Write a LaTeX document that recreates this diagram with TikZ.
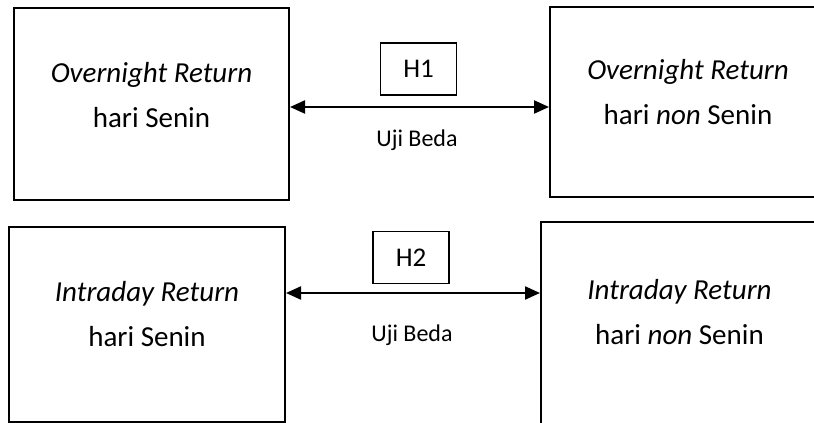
\documentclass[tikz,border=0pt]{standalone}
\usepackage{fontspec}
\setmainfont{Carlito}
\usetikzlibrary{arrows.meta}
\tikzset{
  every picture/.style={x=1pt,y=-1pt},
  bigbox/.style={draw=black, line width=2pt, rectangle, inner sep=0pt},
  hbox/.style={draw=black, line width=1.6pt, rectangle, inner sep=0pt,
    minimum width=76pt, minimum height=52pt, font=\fontsize{27}{31}\selectfont},
  boxtext/.style={align=center, font=\fontsize{29}{45}\selectfont, inner sep=0pt},
  testlabel/.style={font=\fontsize{24}{28}\selectfont, inner sep=0pt},
  link/.style={line width=2.2pt, {Triangle[length=15pt,width=13pt]}-{Triangle[length=15pt,width=13pt]}}
}
\begin{document}
\begin{tikzpicture}
  \useasboundingbox (0,0) rectangle (814,423);
  \clip (0,0) rectangle (814,423);
  \fill[white] (0,0) rectangle (814,423);

  % comparison boxes
  \node[bigbox, minimum width=275pt, minimum height=192pt] (ovsen) at (151.5,104) {};
  \node[bigbox, minimum width=276pt, minimum height=190pt] (ovnon) at (688,102) {};
  \node[bigbox, minimum width=276pt, minimum height=195pt] (insen) at (147,324.5) {};
  \node[bigbox, minimum width=277pt, minimum height=216pt] (innon) at (679.5,330) {};

  % box texts
  \node[boxtext] (tovsen) at (151.5,95) {\textit{Overnight Return}\\hari Senin};
  \node[boxtext] (tovnon) at (688,92) {\textit{Overnight Return}\\hari \textit{non} Senin};
  \node[boxtext] (tinsen) at (147,314) {\textit{Intraday Return}\\hari Senin};
  \node[boxtext] (tinnon) at (679.5,312) {\textit{Intraday Return}\\hari \textit{non} Senin};

  % hypotheses
  \node[hbox] (h1) at (418.5,69) {H1};
  \node[hbox] (h2) at (411,257.5) {H2};

  % difference tests
  \draw[link] (ovsen.east |- 0,107) -- (ovnon.west |- 0,107);
  \draw[link] (insen.east |- 0,293) -- (innon.west |- 0,293);

  \node[testlabel] (t1) at (417,140) {Uji Beda};
  \node[testlabel] (t2) at (412,335) {Uji Beda};
\end{tikzpicture}
\end{document}
